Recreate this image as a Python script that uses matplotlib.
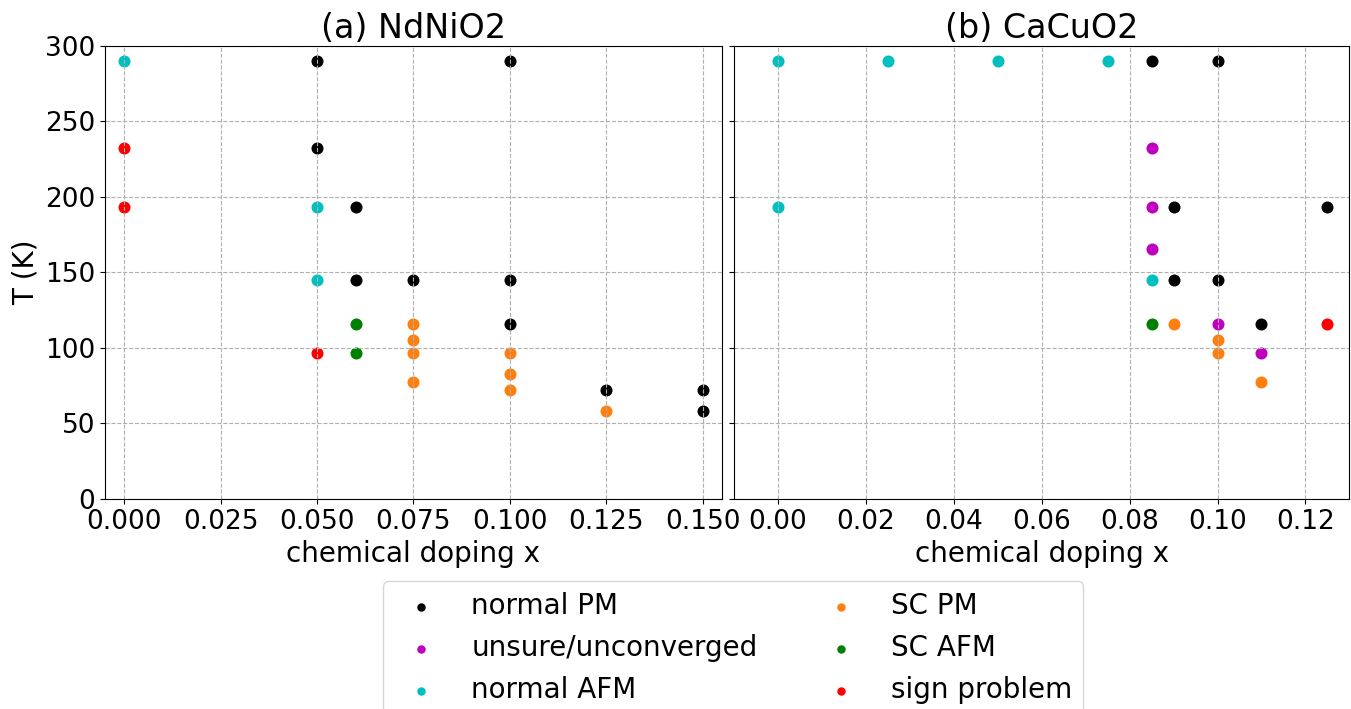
import matplotlib
matplotlib.use('Agg')
import matplotlib.pyplot as plt

# Phase points, T in Kelvin, x = chemical doping
labels = ['normal PM', 'unsure/unconverged', 'normal AFM', 'SC PM', 'SC AFM', 'sign problem']
colors = ['k', 'm', 'c', 'tab:orange', 'g', 'r']

# (a) NdNiO2
nd_pm_x = [0.05, 0.05, 0.06, 0.06, 0.075, 0.1, 0.1, 0.1, 0.125, 0.15, 0.15]
nd_pm_T = [290.1, 232.1, 193.4, 145.1, 145.1, 290.1, 145.1, 116.0, 72.5, 72.5, 58.0]
nd_uns_x = []
nd_uns_T = []
nd_afm_x = [0.0, 0.05, 0.05]
nd_afm_T = [290.1, 193.4, 145.1]
nd_scpm_x = [0.075, 0.075, 0.075, 0.075, 0.1, 0.1, 0.1, 0.125]
nd_scpm_T = [116.0, 105.5, 96.7, 77.4, 96.7, 82.9, 72.5, 58.0]
nd_scafm_x = [0.06, 0.06]
nd_scafm_T = [116.0, 96.7]
nd_sign_x = [0.0, 0.0, 0.05]
nd_sign_T = [232.1, 193.4, 96.7]

# (b) CaCuO2
ca_pm_x = [0.085, 0.09, 0.09, 0.1, 0.1, 0.11, 0.125]
ca_pm_T = [290.1, 193.4, 145.1, 290.1, 145.1, 116.0, 193.4]
ca_uns_x = [0.085, 0.085, 0.085, 0.1, 0.11]
ca_uns_T = [232.1, 193.4, 165.8, 116.0, 96.7]
ca_afm_x = [0.0, 0.0, 0.025, 0.05, 0.075, 0.085]
ca_afm_T = [290.1, 193.4, 290.1, 290.1, 290.1, 145.1]
ca_scpm_x = [0.09, 0.1, 0.1, 0.11]
ca_scpm_T = [116.0, 105.5, 96.7, 77.4]
ca_scafm_x = [0.085]
ca_scafm_T = [116.0]
ca_sign_x = [0.125]
ca_sign_T = [116.0]

nd = [(nd_pm_x, nd_pm_T), (nd_uns_x, nd_uns_T), (nd_afm_x, nd_afm_T),
      (nd_scpm_x, nd_scpm_T), (nd_scafm_x, nd_scafm_T), (nd_sign_x, nd_sign_T)]
ca = [(ca_pm_x, ca_pm_T), (ca_uns_x, ca_uns_T), (ca_afm_x, ca_afm_T),
      (ca_scpm_x, ca_scpm_T), (ca_scafm_x, ca_scafm_T), (ca_sign_x, ca_sign_T)]

fig = plt.figure(figsize=(13.51, 7.09), dpi=100)
ax1 = fig.add_axes([0.0777, 0.2962, 0.4567, 0.639])
ax2 = fig.add_axes([0.5433, 0.2962, 0.4555, 0.639], sharey=ax1)

for ax, data, title in [(ax1, nd, '(a) NdNiO2'), (ax2, ca, '(b) CaCuO2')]:
    for (xs, ts), c, lab in zip(data, colors, labels):
        ax.scatter(xs, ts, s=75, c=c, label=lab, linewidths=0)
    ax.grid(True, linestyle='--', color='#b0b0b0')
    ax.set_title(title, fontsize=24)
    ax.set_xlabel('chemical doping x', fontsize=20)
    ax.tick_params(labelsize=19)

ax1.set_xlim(-0.005, 0.155)
ax2.set_xlim(-0.01, 0.13)
ax1.set_ylim(0, 300)
ax1.set_ylabel('T (K)', fontsize=20)
ax2.tick_params(labelleft=False)

# legend from the right panel, it has all six categories
h2, l2 = ax2.get_legend_handles_labels()
fig.legend(h2, l2, loc='upper center', bbox_to_anchor=(0.5425, 0.1805),
           ncol=2, fontsize=20, markerscale=0.7, borderaxespad=0)

fig.savefig('out.png', dpi=100)
